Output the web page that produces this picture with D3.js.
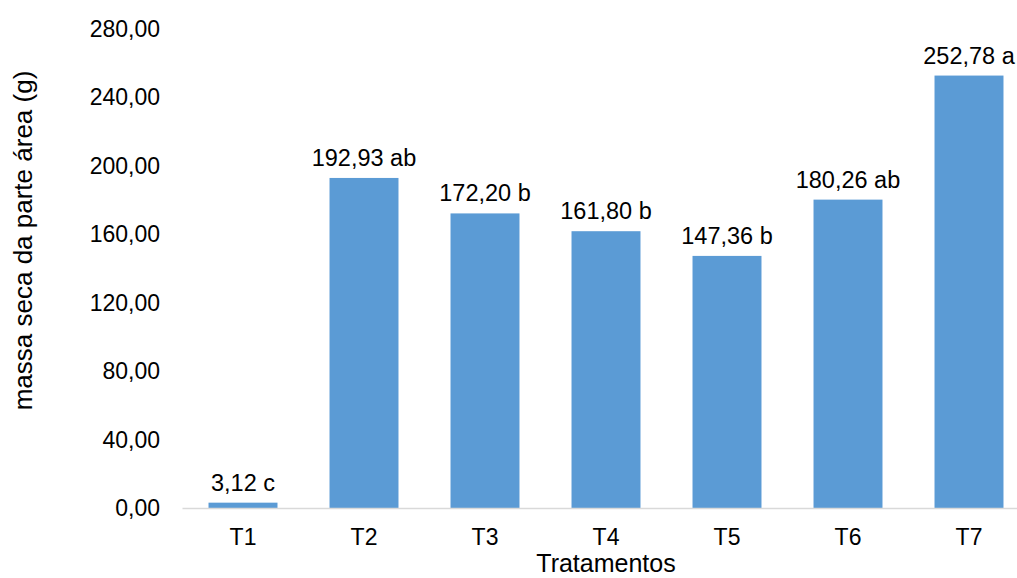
<!DOCTYPE html>
<html>
<head>
<meta charset="utf-8">
<script src="https://cdn.jsdelivr.net/npm/d3@7"></script>
<style>
  html, body { margin: 0; padding: 0; background: #fff; }
  svg { display: block; font-family: "Liberation Sans", Arial, sans-serif; }
</style>
</head>
<body>
<svg id="chart" width="1017" height="578"></svg>
<script>
// Dry mass of the aerial part per treatment
const treatments = ["T1", "T2", "T3", "T4", "T5", "T6", "T7"];
const dryMass = [3.12, 192.93, 172.20, 161.80, 147.36, 180.26, 252.78];
const groupLetters = ["c", "ab", "b", "b", "b", "ab", "a"];
const yTicks = [0, 40, 80, 120, 160, 200, 240, 280];

const svg = d3.select("#chart");

const x = d3.scaleBand()
  .domain(treatments)
  .range([182.5, 1029.5])
  .paddingInner(0.43)
  .paddingOuter(0.215);

const y = d3.scaleLinear()
  .domain([0, 280])
  .range([508, 29]);

const fmt = v => d3.format(".2f")(v).replace(".", ",");

// Y tick labels (no axis line, no gridlines)
svg.append("g")
  .selectAll("text")
  .data(yTicks)
  .join("text")
  .attr("x", 160)
  .attr("y", d => y(d))
  .attr("dy", "0.35em")
  .attr("text-anchor", "end")
  .attr("font-size", 23)
  .attr("fill", "#000")
  .text(d => fmt(d));

// Bars
svg.append("g")
  .selectAll("rect")
  .data(dryMass)
  .join("rect")
  .attr("x", (d, i) => x(treatments[i]))
  .attr("y", d => y(d))
  .attr("width", x.bandwidth())
  .attr("height", d => y(0) - y(d))
  .attr("fill", "#5b9bd5");

// Category axis line
svg.append("line")
  .attr("x1", x.range()[0])
  .attr("x2", x.range()[1])
  .attr("y1", y(0) + 0.5)
  .attr("y2", y(0) + 0.5)
  .attr("stroke", "#d9d9d9")
  .attr("stroke-width", 1.5);

// Category labels
svg.append("g")
  .selectAll("text")
  .data(treatments)
  .join("text")
  .attr("x", d => x(d) + x.bandwidth() / 2)
  .attr("y", 545)
  .attr("text-anchor", "middle")
  .attr("font-size", 23)
  .attr("fill", "#000")
  .text(d => d);

// Value labels with group letters
svg.append("g")
  .selectAll("text")
  .data(dryMass)
  .join("text")
  .attr("x", (d, i) => x(treatments[i]) + x.bandwidth() / 2)
  .attr("y", d => y(d) - 12)
  .attr("text-anchor", "middle")
  .attr("font-size", 23.5)
  .attr("fill", "#000")
  .text((d, i) => fmt(d) + " " + groupLetters[i]);

// Axis titles
svg.append("text")
  .attr("x", x("T4") + x.bandwidth() / 2)
  .attr("y", 572)
  .attr("text-anchor", "middle")
  .attr("font-size", 25)
  .attr("fill", "#000")
  .text("Tratamentos");

svg.append("text")
  .attr("transform", "translate(32,240.5) rotate(-90)")
  .attr("text-anchor", "middle")
  .attr("font-size", 26)
  .attr("fill", "#000")
  .text("massa seca da parte área (g)");
</script>
</body>
</html>
